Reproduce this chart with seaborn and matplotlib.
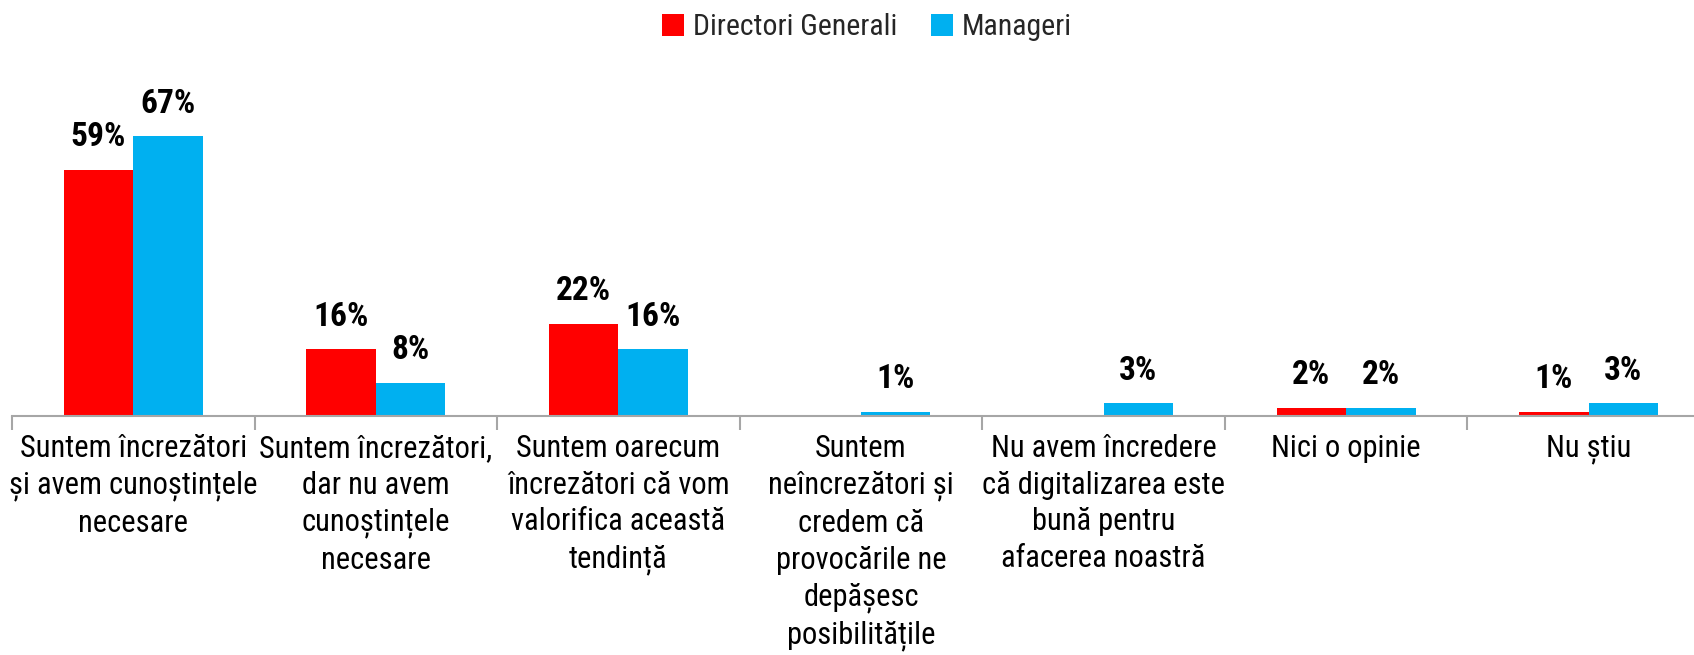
import numpy as np
import pandas as pd
import matplotlib
matplotlib.use("Agg")
import matplotlib.pyplot as plt
import seaborn as sns
from matplotlib import font_manager as fm

categories = [
    "Suntem încrezători\nși avem cunoștințele\nnecesare",
    "Suntem încrezători,\ndar nu avem\ncunoștințele\nnecesare",
    "Suntem oarecum\nîncrezători că vom\nvalorifica această\ntendință",
    "Suntem\nneîncrezători și\ncredem că\nprovocările ne\ndepășesc\nposibilitățile",
    "Nu avem încredere\ncă digitalizarea este\nbună pentru\nafacerea noastră",
    "Nici o opinie",
    "Nu știu",
]
series_names = ["Directori Generali", "Manageri"]
directori = [59, 16, 22, np.nan, np.nan, 2, 1]
manageri = [67, 8, 16, 1, 3, 2, 3]
colors = ["#FF0000", "#00B0F0"]

sns.set_theme(style="white")
avail = {f.name for f in fm.fontManager.ttflist}
fam = "Liberation Sans"
for cand in ["Liberation Sans Narrow", "Arial Narrow", "Roboto Condensed", "PT Sans Narrow", "Archivo Narrow"]:
    if cand in avail:
        fam = cand
        break
plt.rcParams["font.family"] = [fam, "DejaVu Sans"]

df = pd.DataFrame({
    "cat": categories * 2,
    "series": [series_names[0]] * len(categories) + [series_names[1]] * len(categories),
    "val": directori + manageri,
})

fig = plt.figure(figsize=(16.94, 6.55), dpi=100)
ax = fig.add_axes([12 / 1694, 1 - 416 / 655, 1698 / 1694, (416 - 82) / 655])
sns.barplot(data=df, x="cat", y="val", hue="series", hue_order=series_names,
            order=categories, palette=colors, width=0.573, saturation=1,
            ax=ax, legend=True, errorbar=None, linewidth=0)

for cont in ax.containers:
    labels = [f"{v:.0f}%" if np.isfinite(v) and v > 0 else "" for v in cont.datavalues]
    ax.bar_label(cont, labels=labels, padding=12, fontsize=24, fontweight="bold", color="black")

ax.set_xlim(-0.5, len(categories) - 0.5)
ax.set_ylim(0, 80)
ax.set_xlabel("")
ax.set_ylabel("")
ax.set_yticks([])
for s in ["top", "right", "left"]:
    ax.spines[s].set_visible(False)
ax.spines["bottom"].set_color("#A6A6A6")
ax.spines["bottom"].set_linewidth(1.5)

ax.set_xticks(range(len(categories)))
ax.set_xticklabels(categories, fontsize=22, linespacing=1.33, va="top", ha="center", color="black")
ax.tick_params(axis="x", which="major", length=0, pad=13)
ax.set_xticks(np.arange(-0.5, len(categories), 1.0), minor=True)
ax.tick_params(axis="x", which="minor", length=10, width=1.5, color="#A6A6A6", direction="out", bottom=True)

leg = ax.legend(loc="center", bbox_to_anchor=(867 / 1694, 1 - 27 / 655),
                bbox_transform=fig.transFigure, ncol=2, frameon=False,
                fontsize=21.5, handlelength=0.75, handleheight=0.75,
                handletextpad=0.3, columnspacing=1.1)

fig.savefig("out.png", dpi=100)
